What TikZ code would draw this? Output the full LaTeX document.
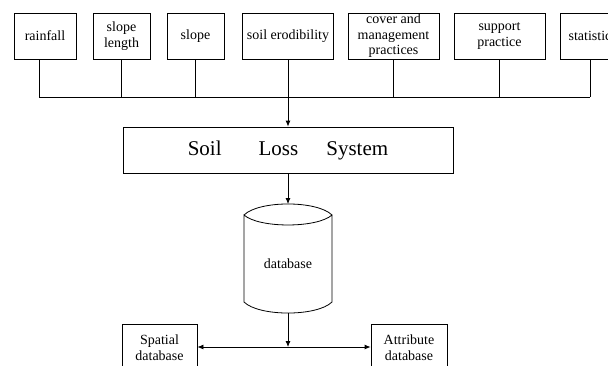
\documentclass[tikz,border=0pt]{standalone}
\usepackage{fontspec}
\setmainfont{Liberation Serif}
\usetikzlibrary{positioning,arrows.meta}

\begin{document}
\begin{tikzpicture}
		[x=1pt,y=-1pt,line width=0.8pt,>={Latex[length=6pt,width=5pt]},
		 factor/.style={draw,minimum height=46pt,inner sep=1pt,align=center,font=\fontsize{14}{15.5}\selectfont},
		 store/.style={draw,minimum height=48pt,inner sep=1pt,align=center,font=\fontsize{14}{16}\selectfont}]
		\useasboundingbox (0,0) rectangle (608,365);
		\clip (0,0) rectangle (608,365);

		% the factors on top
		\node[factor,minimum width=62pt] (rain) at (45,36) {rainfall};
		\node[factor,minimum width=57pt] (len) at (121.5,36) {slope\\length};
		\node[factor,minimum width=57pt] (slp) at (195.5,36) {slope};
		\node[factor,minimum width=91pt] (erod) at (288,36) {soil erodibility};
		\node[factor,minimum width=91pt] (cov) at (393.5,36) {cover and\\management\\practices};
		\node[factor,minimum width=91pt] (sup) at (499.5,36) {support\\practice};
		\node[factor,minimum width=60pt] (stat) at (590,36) {statistic};

		% collect them on one line
		\coordinate (busL) at (39,97);
		\coordinate (busR) at (590,97);
		\draw (busL) -- (busR);
		\draw (rain.south -| busL) -- (busL);
		\foreach \n in {len,slp,cov,sup,stat}
			\draw (\n.south) -- (\n.south |- busL);

		% the system
		\node[draw,minimum width=330pt,minimum height=46pt,font=\fontsize{21}{24}\selectfont] (sls) at (288,150)
			{Soil\hspace{37pt}Loss\hspace{28pt}System};
		\draw[->] (erod.south) -- (sls.north);

		% the database drum
		\draw (244,215) .. controls (259,200.3) and (317,200.3) .. (332,215)
			.. controls (317,228.3) and (259,228.3) .. (244,215) -- (244,302)
			.. controls (259,316.7) and (317,316.7) .. (332,302) -- (332,215);
		\coordinate (dbtop) at (288,204);
		\coordinate (dbbot) at (288,313);
		\node[font=\fontsize{14}{16}\selectfont] (db) at (288,264) {database};
		\draw[->] (sls.south) -- (dbtop);

		% the two stores
		\node[store,minimum width=75pt] (spat) at (159.5,348) {Spatial\\database};
		\node[store,minimum width=76pt] (attr) at (409,348) {Attribute\\database};
		\coordinate (split) at (288,347);
		\draw[->] (dbbot) -- (split);
		\draw[<->] (spat.east |- split) -- (attr.west |- split);
	\end{tikzpicture}
\end{document}
